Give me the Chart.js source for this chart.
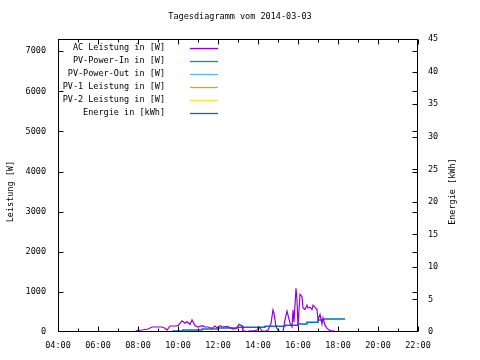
<!DOCTYPE html>
<html>
<head>
<meta charset="utf-8">
<script src="https://cdn.jsdelivr.net/npm/chart.js@4/dist/chart.umd.min.js"></script>
<style>
  html, body { margin: 0; background: #fff; }
</style>
</head>
<body>
<canvas id="grafico" width="480" height="360"></canvas>
<script>
const titel = 'Tagesdiagramm vom 2014-03-03';
const achseLinks = 'Leistung [W]';
const achseRechts = 'Energie [kWh]';

const serienNamen = [
    'AC Leistung in [W]',
    'PV-Power-In in [W]',
    'PV-Power-Out in [W]',
    'PV-1 Leistung in [W]',
    'PV-2 Leistung in [W]',
    'Energie in [kWh]'
];
const serienFarben = ['#9400d3', '#009e73', '#56b4e9', '#e69f00', '#f0e442', '#0072b2'];

const leistungTicks = [0, 1000, 2000, 3000, 4000, 5000, 6000, 7000];
const energieTicks = [0, 5, 10, 15, 20, 25, 30, 35, 40, 45];

// Uhrzeit in Stunden
const acZeit = [7.65, 7.85, 8.0, 8.2, 8.5, 8.7, 8.95, 9.2, 9.35, 9.45, 9.6, 9.85, 10.0, 10.2, 10.35,
    10.45, 10.6, 10.7, 10.85, 11.0, 11.2, 11.35, 11.5, 11.7, 11.85, 11.95, 12.1, 12.25, 12.45, 12.6,
    12.75, 12.95, 13.05, 13.2, 13.25, 13.45, 13.6, 13.75, 13.95, 14.05, 14.2, 14.35, 14.5, 14.65,
    14.75, 14.8, 14.9, 15.0, 15.1, 15.25, 15.35, 15.45, 15.5, 15.6, 15.7, 15.75, 15.8, 15.9, 15.95,
    16.0, 16.1, 16.2, 16.25, 16.35, 16.45, 16.5, 16.6, 16.7, 16.75, 16.85, 16.95, 17.0, 17.1, 17.2,
    17.25, 17.35, 17.45, 17.6, 17.75, 17.95, 18.0];
const acLeistung = [0, 10, 40, 50, 75, 125, 125, 125, 95, 50, 150, 150, 160, 280, 220,
    260, 190, 300, 160, 125, 160, 130, 125, 90, 150, 100, 160, 125, 140, 110,
    75, 100, 190, 155, 30, 10, 30, 25, 50, 125, 30, 10, 50, 215,
    550, 470, 130, 50, 0, 10, 300, 520, 420, 225, 130, 550, 250, 1090, 800,
    130, 940, 880, 600, 560, 670, 600, 620, 560, 670, 620, 560, 300, 440, 200,
    350, 170, 90, 35, 30, 0, 0];

const energieZeit = [8.0, 9.75, 10.25, 11.2, 12.0, 12.95, 14.35, 15.35, 16.0, 16.45, 17.0, 17.25, 18.35];
const energieWert = [0.0, 0.15, 0.3, 0.46, 0.6, 0.72, 0.88, 1.03, 1.23, 1.5, 1.85, 2.0, 2.0];

const schrift = 'DejaVu Sans Mono';
Chart.defaults.font.family = schrift;
Chart.defaults.font.size = 8.5;
Chart.defaults.color = '#000';

function uhrzeit(h) {
    return (h < 10 ? '0' : '') + h + ':00';
}

const rahmenPlugin = {
    id: 'rahmen',
    afterDraw(chart) {
        const ctx = chart.ctx;
        const a = chart.chartArea;
        const x = chart.scales.x, y = chart.scales.y, y2 = chart.scales.y2;
        const L = Math.round(a.left) + 0.5, R = Math.round(a.right) - 0.5;
        const T = Math.round(a.top) + 0.5, B = Math.round(a.bottom) - 0.5;
        ctx.save();
        ctx.strokeStyle = '#000';
        ctx.lineWidth = 1;
        ctx.strokeRect(L, T, R - L, B - T);
        ctx.beginPath();
        for (let h = 4; h <= 22; h++) {
            const px = Math.round(x.getPixelForValue(h)) + 0.5;
            const len = h % 2 === 0 ? 5 : 3;
            ctx.moveTo(px, B); ctx.lineTo(px, B - len);
            ctx.moveTo(px, T); ctx.lineTo(px, T + len);
        }
        leistungTicks.slice(1).forEach(v => {
            const py = Math.round(y.getPixelForValue(v)) + 0.5;
            ctx.moveTo(L, py); ctx.lineTo(L + 5, py);
            ctx.moveTo(R, py); ctx.lineTo(R - 5, py);
        });
        energieTicks.slice(1).forEach(v => {
            const py = Math.round(y2.getPixelForValue(v)) + 0.5;
            ctx.moveTo(R, py); ctx.lineTo(R - 5, py);
        });
        ctx.stroke();

        // Achsentitel
        ctx.font = '8.5px "' + schrift + '"';
        ctx.fillStyle = '#000';
        ctx.textAlign = 'center';
        ctx.textBaseline = 'middle';
        const mitte = (a.top + a.bottom) / 2 + 6;
        ctx.save();
        ctx.translate(11, mitte);
        ctx.rotate(-Math.PI / 2);
        ctx.fillText(achseLinks, 0, 0);
        ctx.restore();
        ctx.save();
        ctx.translate(453, mitte);
        ctx.rotate(-Math.PI / 2);
        ctx.fillText(achseRechts, 0, 0);
        ctx.restore();

        // Legende
        ctx.textAlign = 'right';
        chart.data.datasets.forEach((ds, i) => {
            const ly = 48 + i * 12.9;
            ctx.fillStyle = '#000';
            ctx.fillText(ds.label, 165, ly);
            ctx.strokeStyle = ds.borderColor;
            ctx.lineWidth = 1.3;
            ctx.beginPath();
            ctx.moveTo(190, Math.round(ly) + 0.5);
            ctx.lineTo(218, Math.round(ly) + 0.5);
            ctx.stroke();
        });
        ctx.restore();
    }
};

const acDaten = acZeit.map((t, i) => ({ x: t, y: acLeistung[i] }));
const energieDaten = energieZeit.map((t, i) => ({ x: t, y: energieWert[i] }));

const datensaetze = serienNamen.map((name, i) => ({
    label: name,
    data: [],
    borderColor: serienFarben[i],
    backgroundColor: serienFarben[i],
    borderWidth: 1.2,
    pointRadius: 0,
    yAxisID: 'y'
}));
datensaetze[0].data = acDaten;
datensaetze[5].data = energieDaten;
datensaetze[5].yAxisID = 'y2';
datensaetze[5].stepped = true;
datensaetze[5].borderWidth = 1.5;

new Chart(document.getElementById('grafico'), {
    type: 'line',
    data: { datasets: datensaetze },
    options: {
        responsive: false,
        animation: false,
        layout: { padding: 0 },
        plugins: {
            legend: { display: false },
            tooltip: { enabled: false },
            title: {
                display: true,
                text: titel,
                font: { size: 8.5, weight: 'normal', lineHeight: 1.2 },
                color: '#000',
                padding: { top: 12, bottom: 17 }
            }
        },
        scales: {
            x: {
                type: 'linear',
                min: 4,
                max: 22,
                grid: { display: false, drawTicks: false },
                border: { display: false },
                ticks: { stepSize: 2, padding: 9, maxRotation: 0, autoSkip: false, callback: v => uhrzeit(v) },
                afterFit: s => { s.height = 28; }
            },
            y: {
                position: 'left',
                min: 0,
                max: 7300,
                grid: { display: false, drawTicks: false },
                border: { display: false },
                afterBuildTicks: s => { s.ticks = leistungTicks.map(v => ({ value: v })); },
                ticks: { padding: 12, autoSkip: false, callback: v => String(v) },
                afterFit: s => { s.width = 58; }
            },
            y2: {
                position: 'right',
                min: 0,
                max: 45,
                grid: { display: false, drawTicks: false },
                border: { display: false },
                afterBuildTicks: s => { s.ticks = energieTicks.map(v => ({ value: v })); },
                ticks: { padding: 10, autoSkip: false, callback: v => String(v) },
                afterFit: s => { s.width = 62; }
            }
        }
    },
    plugins: [rahmenPlugin]
});
</script>
</body>
</html>
